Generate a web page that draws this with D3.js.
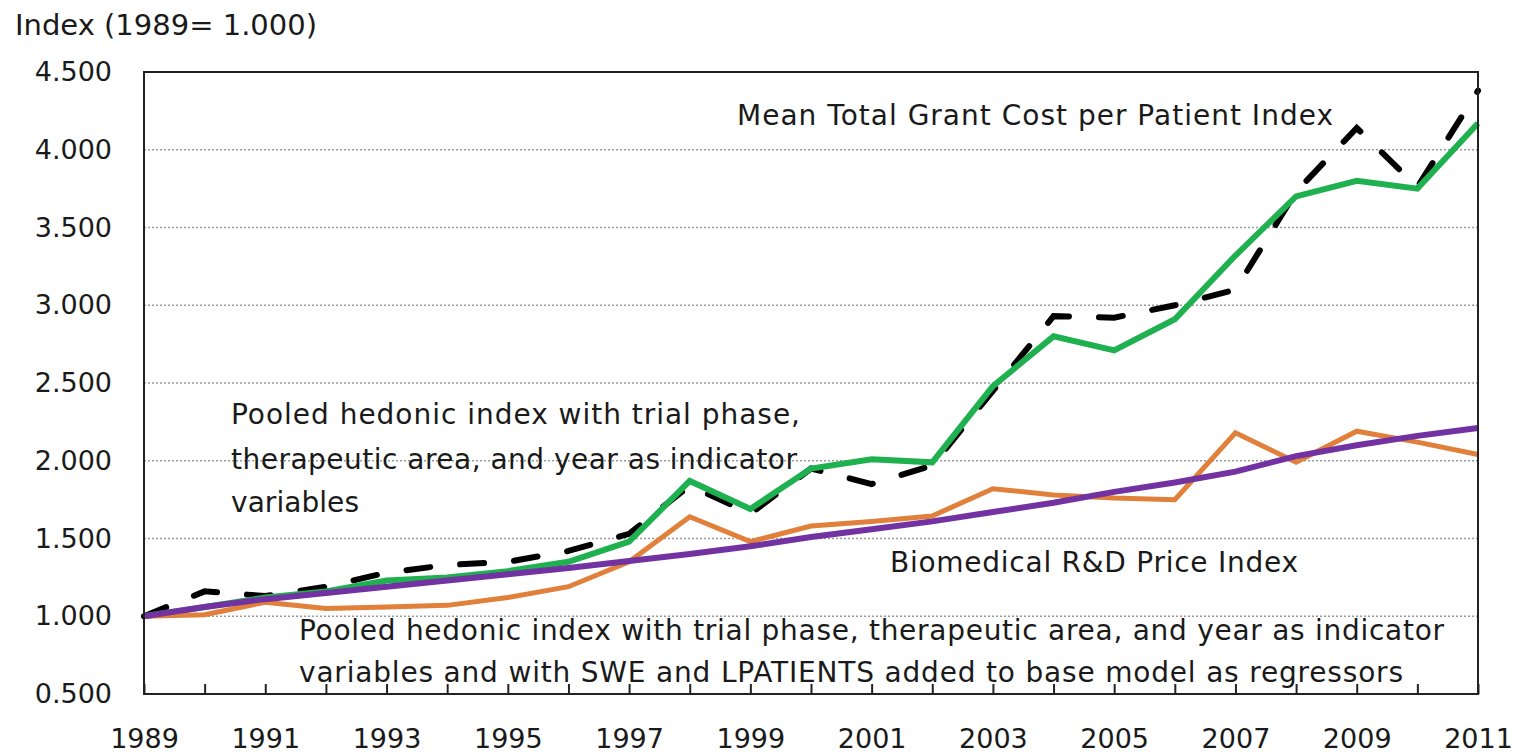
<!DOCTYPE html>
<html>
<head>
<meta charset="utf-8">
<script src="https://cdn.jsdelivr.net/npm/d3@7"></script>
<style>
  body { margin: 0; background: #fff; }
  svg text { font-family: "DejaVu Sans", sans-serif; fill: #1a1a1a; }
</style>
</head>
<body>
<div class="vis-chart"></div>
<script>
const years = [1989, 1990, 1991, 1992, 1993, 1994, 1995, 1996, 1997, 1998, 1999, 2000,
  2001, 2002, 2003, 2004, 2005, 2006, 2007, 2008, 2009, 2010, 2011];
const yearLabels = [1989, 1991, 1993, 1995, 1997, 1999, 2001, 2003, 2005, 2007, 2009, 2011];
const yTicks = [0.5, 1.0, 1.5, 2.0, 2.5, 3.0, 3.5, 4.0, 4.5];
const gridValues = [1.0, 1.5, 2.0, 2.5, 3.0, 3.5, 4.0];

// Mean Total Grant Cost per Patient Index (black dashed)
const meanCost = [1.000, 1.16, 1.13, 1.19, 1.28, 1.33, 1.35, 1.42, 1.53, 1.84, 1.66, 1.95,
  1.85, 1.97, 2.45, 2.93, 2.92, 3.00, 3.10, 3.73, 4.14, 3.76, 4.38];
// Pooled hedonic index (green)
const pooled = [1.000, 1.06, 1.12, 1.16, 1.23, 1.25, 1.29, 1.35, 1.48, 1.87, 1.69, 1.95,
  2.01, 1.99, 2.48, 2.80, 2.71, 2.91, 3.32, 3.70, 3.80, 3.75, 4.17];
// Pooled hedonic index with SWE and LPATIENTS (orange)
const pooledSwe = [1.000, 1.01, 1.09, 1.05, 1.06, 1.07, 1.12, 1.19, 1.35, 1.64, 1.48, 1.58,
  1.61, 1.645, 1.82, 1.78, 1.76, 1.75, 2.18, 1.99, 2.19, 2.12, 2.04];
// Biomedical R&D Price Index (purple)
const bioPrice = [1.000, 1.06, 1.11, 1.15, 1.19, 1.23, 1.27, 1.31, 1.355, 1.40, 1.45, 1.51,
  1.56, 1.61, 1.67, 1.73, 1.80, 1.86, 1.93, 2.03, 2.10, 2.16, 2.21];

const draw = () => {
  const margin = { top: 72, right: 46, bottom: 62, left: 144 };
  const fullW = 1524;
  const fullH = 756;
  const width = fullW - margin.left - margin.right;
  const height = fullH - margin.top - margin.bottom;

  const root = d3.select('.vis-chart')
    .append('svg')
    .attr('width', fullW)
    .attr('height', fullH);
  const svg = root.append('g')
    .attr('transform', `translate(${margin.left},${margin.top})`);

  const x = d3.scaleLinear().domain([1989, 2011]).range([0, width]);
  const y = d3.scaleLinear().domain([0.5, 4.5]).range([height, 0]);

  // dotted grid
  svg.append('g')
    .selectAll('line')
    .data(gridValues)
    .join('line')
    .attr('x1', 0)
    .attr('x2', width)
    .attr('y1', (d) => y(d))
    .attr('y2', (d) => y(d))
    .attr('stroke', '#9a9a9a')
    .attr('stroke-width', 1.5)
    .attr('stroke-dasharray', '2,2');

  // X axis: tick every year, label every other year
  const xAxis = svg.append('g')
    .attr('transform', `translate(0,${height})`)
    .call(d3.axisBottom(x)
      .tickValues(years)
      .tickSizeInner(-10)
      .tickSizeOuter(0)
      .tickPadding(35)
      .tickFormat((d) => (yearLabels.includes(d) ? String(d) : '')));
  xAxis.select('.domain').remove();
  xAxis.selectAll('line').attr('stroke', '#222').attr('stroke-width', 2);
  xAxis.selectAll('text').style('font-size', '27px').style('font-family', '"DejaVu Sans", sans-serif');

  // Y axis
  const yAxis = svg.append('g')
    .call(d3.axisLeft(y)
      .tickValues(yTicks)
      .tickSize(0)
      .tickPadding(32)
      .tickFormat(d3.format('.3f')));
  yAxis.select('.domain').remove();
  yAxis.selectAll('text').style('font-size', '27px').style('font-family', '"DejaVu Sans", sans-serif');

  const line = d3.line()
    .x((d, i) => x(years[i]))
    .y((d) => y(d));

  svg.append('path')
    .datum(meanCost)
    .attr('fill', 'none')
    .attr('stroke', '#000')
    .attr('stroke-width', 6)
    .attr('stroke-linecap', 'round')
    .attr('stroke-dasharray', '24,30')
    .attr('d', line);

  svg.append('path')
    .datum(pooled)
    .attr('fill', 'none')
    .attr('stroke', '#1fb050')
    .attr('stroke-width', 6)
    .attr('d', line);

  svg.append('path')
    .datum(pooledSwe)
    .attr('fill', 'none')
    .attr('stroke', '#e0803a')
    .attr('stroke-width', 5)
    .attr('d', line);

  svg.append('path')
    .datum(bioPrice)
    .attr('fill', 'none')
    .attr('stroke', '#7232a2')
    .attr('stroke-width', 6)
    .attr('d', line);

  // frame
  svg.append('rect')
    .attr('width', width)
    .attr('height', height)
    .attr('fill', 'none')
    .attr('stroke', '#222')
    .attr('stroke-width', 2);

  // title
  root.append('text')
    .attr('x', 15)
    .attr('y', 35)
    .style('font-size', '29px')
    .text('Index (1989= 1.000)');

  // annotations
  const notes = [
    { t: 'Mean Total Grant Cost per Patient Index', x: 737, y: 125, w: 596 },
    { t: 'Pooled hedonic index with trial phase,', x: 231, y: 424, w: 569 },
    { t: 'therapeutic area, and year as indicator', x: 231, y: 469, w: 566 },
    { t: 'variables', x: 231, y: 512, w: 128 },
    { t: 'Biomedical R&D Price Index', x: 890, y: 572, w: 408 },
    { t: 'Pooled hedonic index with trial phase, therapeutic area, and year as indicator', x: 299, y: 640, w: 1145 },
    { t: 'variables and with SWE and LPATIENTS added to base model as regressors', x: 299, y: 682, w: 1104 }
  ];
  root.append('g')
    .selectAll('text')
    .data(notes)
    .join('text')
    .attr('x', (d) => d.x)
    .attr('y', (d) => d.y)
    .attr('textLength', (d) => d.w)
    .attr('lengthAdjust', 'spacing')
    .style('font-size', '28px')
    .text((d) => d.t);
};

draw();
</script>
</body>
</html>
